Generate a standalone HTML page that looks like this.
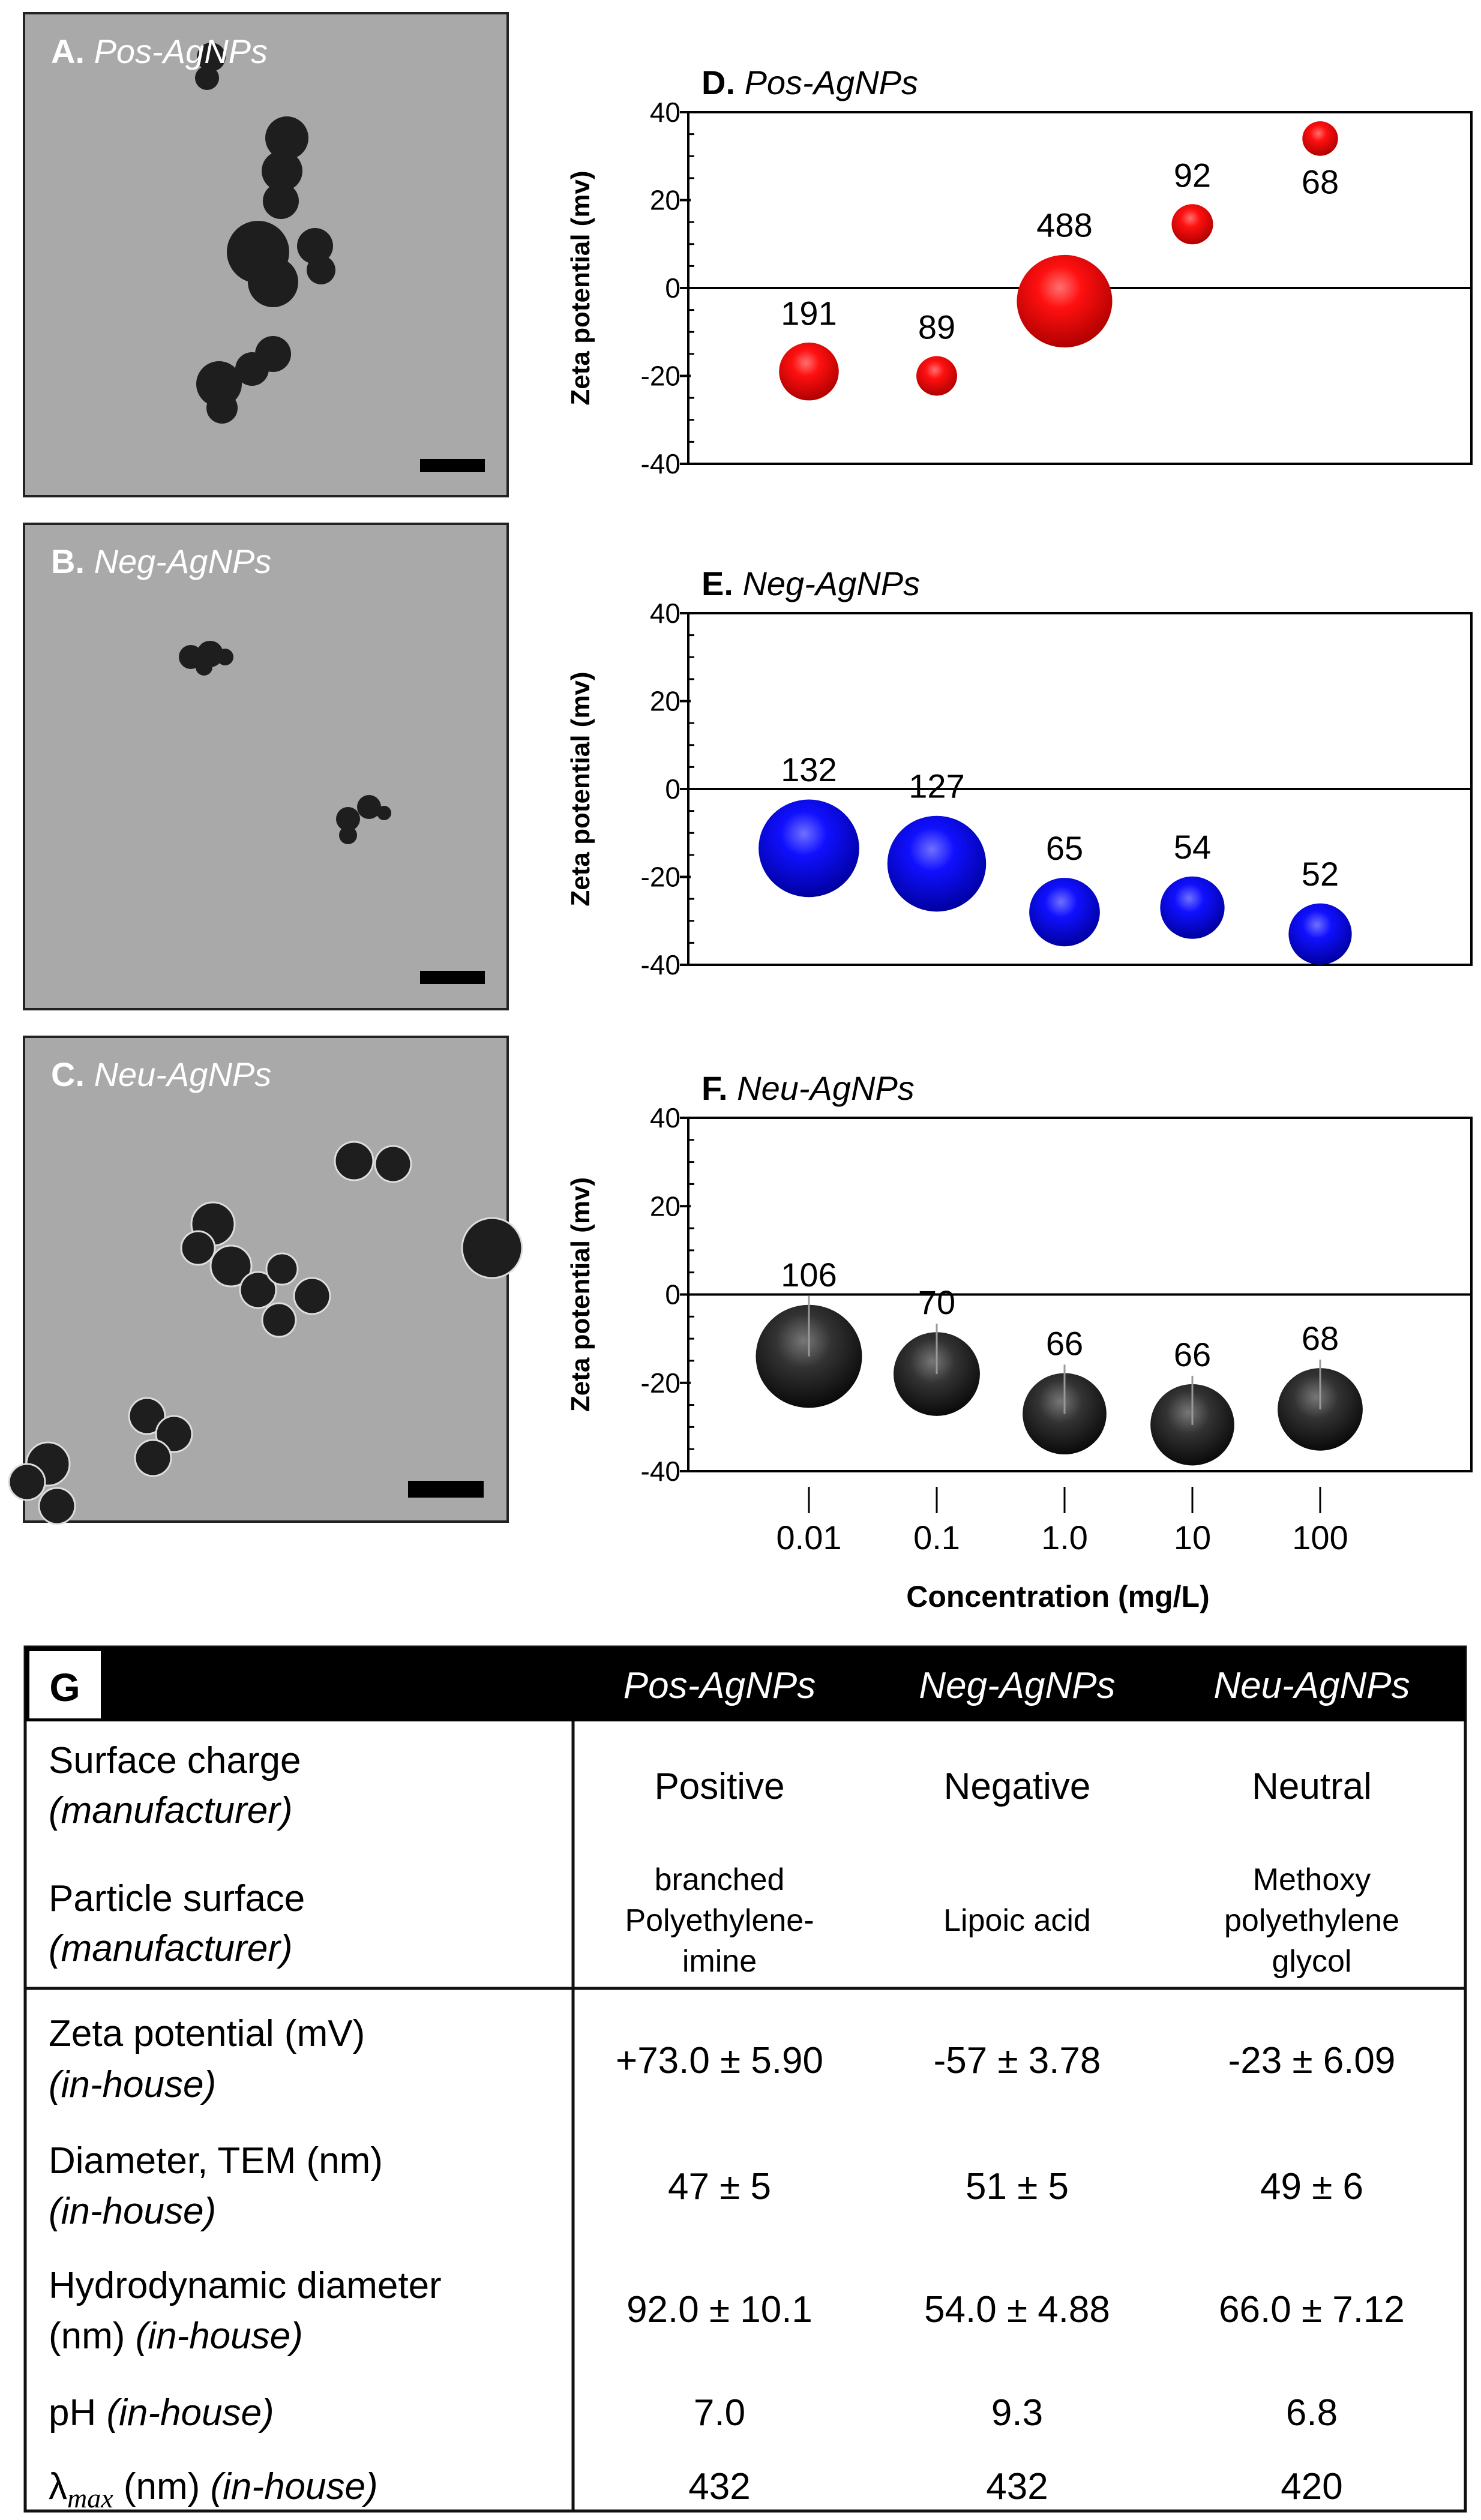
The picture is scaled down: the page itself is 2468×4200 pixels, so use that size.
<!DOCTYPE html>
<html><head><meta charset="utf-8">
<style>
html,body{margin:0;padding:0;background:#fff;}
svg{display:block;font-family:"Liberation Sans",sans-serif;}
</style></head>
<body>
<svg id="fig" width="2468" height="4200" viewBox="0 0 2468 4200" xmlns="http://www.w3.org/2000/svg">
<defs>
<radialGradient id="gred" cx="0.45" cy="0.35" r="0.65"><stop offset="0" stop-color="#ff7070"/><stop offset="0.35" stop-color="#ff1010"/><stop offset="1" stop-color="#b00000"/></radialGradient>
<radialGradient id="gblue" cx="0.45" cy="0.35" r="0.65"><stop offset="0" stop-color="#7070ff"/><stop offset="0.35" stop-color="#1010ff"/><stop offset="1" stop-color="#0000a0"/></radialGradient>
<radialGradient id="gblack" cx="0.45" cy="0.35" r="0.65"><stop offset="0" stop-color="#777"/><stop offset="0.4" stop-color="#333"/><stop offset="1" stop-color="#0a0a0a"/></radialGradient>
</defs>

<!-- TEM panels -->
<g>
<rect x="40" y="22" width="806" height="805" fill="#a9a9a9" stroke="#222" stroke-width="4"/>
<g fill="#1e1e1e">
<circle cx="352" cy="95" r="24"/><circle cx="345" cy="130" r="20"/>
<circle cx="478" cy="230" r="36"/><circle cx="470" cy="285" r="34"/><circle cx="468" cy="335" r="30"/>
<circle cx="430" cy="420" r="52"/><circle cx="455" cy="470" r="42"/><circle cx="525" cy="410" r="30"/><circle cx="535" cy="450" r="24"/>
<circle cx="365" cy="640" r="38"/><circle cx="420" cy="615" r="28"/><circle cx="455" cy="590" r="30"/><circle cx="370" cy="680" r="26"/>
</g>
<rect x="700" y="765" width="108" height="22" fill="#000"/>
<text x="85" y="105" font-size="56" font-weight="bold" fill="#fff">A. <tspan font-style="italic" font-weight="normal">Pos-AgNPs</tspan></text>
</g>
<g>
<rect x="40" y="873" width="806" height="809" fill="#a9a9a9" stroke="#222" stroke-width="4"/>
<g fill="#1e1e1e">
<circle cx="318" cy="1095" r="20"/><circle cx="350" cy="1090" r="22"/><circle cx="340" cy="1112" r="14"/><circle cx="375" cy="1095" r="14"/>
<circle cx="580" cy="1365" r="20"/><circle cx="615" cy="1345" r="20"/><circle cx="580" cy="1392" r="15"/><circle cx="640" cy="1355" r="12"/>
</g>
<rect x="700" y="1618" width="108" height="22" fill="#000"/>
<text x="85" y="955" font-size="56" font-weight="bold" fill="#fff">B. <tspan font-style="italic" font-weight="normal">Neg-AgNPs</tspan></text>
</g>
<g>
<rect x="40" y="1728" width="806" height="808" fill="#a9a9a9" stroke="#222" stroke-width="4"/>
<g fill="#1e1e1e" stroke="#ddd" stroke-width="3">
<circle cx="590" cy="1935" r="32"/><circle cx="655" cy="1940" r="30"/>
<circle cx="355" cy="2040" r="36"/><circle cx="330" cy="2080" r="28"/><circle cx="385" cy="2110" r="34"/>
<circle cx="430" cy="2150" r="30"/><circle cx="470" cy="2115" r="26"/><circle cx="520" cy="2160" r="30"/><circle cx="465" cy="2200" r="28"/>
<circle cx="820" cy="2080" r="50"/>
<circle cx="245" cy="2360" r="30"/><circle cx="290" cy="2390" r="30"/><circle cx="255" cy="2430" r="30"/>
<circle cx="80" cy="2440" r="36"/><circle cx="95" cy="2510" r="30"/><circle cx="45" cy="2470" r="30"/>
</g>
<rect x="680" y="2468" width="126" height="28" fill="#000"/>
<text x="85" y="1810" font-size="56" font-weight="bold" fill="#fff">C. <tspan font-style="italic" font-weight="normal">Neu-AgNPs</tspan></text>
</g>

<g id="charts"></g>

<!-- Table G -->
<g font-size="62">
<rect x="42" y="2745" width="2400" height="1440" fill="none" stroke="#111" stroke-width="5"/>
<rect x="42" y="2745" width="2400" height="124" fill="#000"/>
<rect x="49" y="2752" width="119" height="112" fill="#fff"/>
<text x="108" y="2835" font-size="66" font-weight="bold" text-anchor="middle">G</text>
<g font-style="italic" fill="#fff" text-anchor="middle" font-size="62">
<text x="1199" y="2830">Pos-AgNPs</text><text x="1695" y="2830">Neg-AgNPs</text><text x="2186" y="2830">Neu-AgNPs</text>
</g>
<line x1="955" y1="2869" x2="955" y2="4185" stroke="#111" stroke-width="5"/>
<line x1="42" y1="3314" x2="2442" y2="3314" stroke="#111" stroke-width="5"/>
<g>
<text x="81" y="2955">Surface charge</text><text x="81" y="3038" font-style="italic">(manufacturer)</text>
<text x="81" y="3185">Particle surface</text><text x="81" y="3268" font-style="italic">(manufacturer)</text>
<text x="81" y="3410">Zeta potential (mV)</text><text x="81" y="3495" font-style="italic">(in-house)</text>
<text x="81" y="3622">Diameter, TEM (nm)</text><text x="81" y="3706" font-style="italic">(in-house)</text>
<text x="81" y="3830">Hydrodynamic diameter</text><text x="81" y="3914">(nm) <tspan font-style="italic">(in-house)</tspan></text>
<text x="81" y="4042">pH <tspan font-style="italic">(in-house)</tspan></text>
<text x="81" y="4165">λ<tspan font-family="Liberation Serif" font-style="italic" font-size="46" dy="14">max</tspan><tspan dy="-14"> (nm) </tspan><tspan font-style="italic">(in-house)</tspan></text>
</g>
<g text-anchor="middle">
<text x="1199" y="2998">Positive</text><text x="1695" y="2998">Negative</text><text x="2186" y="2998">Neutral</text>
<g font-size="52"><text x="1199" y="3150">branched</text><text x="1199" y="3218">Polyethylene-</text><text x="1199" y="3286">imine</text>
<text x="1695" y="3218">Lipoic acid</text>
<text x="2186" y="3150">Methoxy</text><text x="2186" y="3218">polyethylene</text><text x="2186" y="3286">glycol</text></g>
<text x="1199" y="3455">+73.0 ± 5.90</text><text x="1695" y="3455">-57 ± 3.78</text><text x="2186" y="3455">-23 ± 6.09</text>
<text x="1199" y="3665">47 ± 5</text><text x="1695" y="3665">51 ± 5</text><text x="2186" y="3665">49 ± 6</text>
<text x="1199" y="3870">92.0 ± 10.1</text><text x="1695" y="3870">54.0 ± 4.88</text><text x="2186" y="3870">66.0 ± 7.12</text>
<text x="1199" y="4042">7.0</text><text x="1695" y="4042">9.3</text><text x="2186" y="4042">6.8</text>
<text x="1199" y="4165">432</text><text x="1695" y="4165">432</text><text x="2186" y="4165">420</text>
</g>
</g>
</svg>
<script>
const categories = ["0.01","0.1","1.0","10","100"];
const yTicks = [40,20,0,-20,-40];
const posZeta = [-19,-20,-3,14.5,34];
const posSize = [191,89,488,92,68];
const negZeta = [-13.5,-17,-28,-27,-33];
const negSize = [132,127,65,54,52];
const neuZeta = [-14,-18,-27,-29.5,-26];
const neuSize = [106,70,66,66,68];

const NS = "http://www.w3.org/2000/svg";
const root = document.getElementById('charts');
const plotL = 1147, plotR = 2452;
function xPos(i){ return 1348 + i*(2200-1348)/(categories.length-1); }
function mk(tag, attrs, parent){ const e=document.createElementNS(NS,tag); for(const k in attrs) e.setAttribute(k,attrs[k]); parent.appendChild(e); return e; }

const charts = [
 {key:'d', title:'D.', sub:'Pos-AgNPs', top:187, bot:773, zeta:posZeta, size:posSize, grad:'url(#gred)', k:3.6},
 {key:'e', title:'E.', sub:'Neg-AgNPs', top:1022, bot:1608, zeta:negZeta, size:negSize, grad:'url(#gblue)', k:7.3},
 {key:'f', title:'F.', sub:'Neu-AgNPs', top:1863, bot:2452, zeta:neuZeta, size:neuSize, grad:'url(#gblack)', k:8.6}
];
charts.forEach(c=>{
  const g = mk('g',{},root);
  
  
  const y = v => c.top + (40 - v)/80*(c.bot-c.top);
  const t = mk('text',{x:1169,y:c.top-30,'font-size':56,'font-weight':'bold'},g);
  
  
  t.textContent = c.title+' ';
  const ts = mk('tspan',{'font-style':'italic','font-weight':'normal'},t); ts.textContent=c.sub;
  const box = mk('rect',{x:plotL,y:c.top,width:plotR-plotL,height:c.bot-c.top,fill:'none',stroke:'#000','stroke-width':4},g);
  
  
  const zl = mk('line',{x1:plotL,x2:plotR,y1:y(0),y2:y(0),stroke:'#000','stroke-width':4},g);
  
  
  for(let v=-40; v<=40; v+=5){
    const major = v%20===0;
    mk('line',{x1:plotL-(major?14:0),x2:plotL+(major?4:10),y1:y(v),y2:y(v),stroke:'#000','stroke-width':major?4:3},g);
  }
  yTicks.forEach(v=>{
    const tl = mk('text',{x:1134,y:y(v)+16,'font-size':46,'text-anchor':'end'},g);
    
    
    tl.textContent = v;
  });
  const yl = mk('text',{x:0,y:0,'font-size':44,'font-weight':'bold','text-anchor':'middle',transform:`translate(982 ${(c.top+c.bot)/2}) rotate(-90)`},g);
  
  
  yl.textContent = 'Zeta potential (mv)';
  c.zeta.forEach((v,i)=>{
    const r = c.k*Math.sqrt(c.size[i]);
    const cx = xPos(i), cy = y(v);
    const b = mk('ellipse',{cx:cx,cy:cy,rx:r,ry:r*0.97,fill:c.grad},g);
    
    
    if(c.key==='f') mk('line',{x1:cx,x2:cx,y1:cy-r-12,y2:cy,stroke:'#999','stroke-width':3},g);
    const below = (c.key==='d' && i===4);
    const lb = mk('text',{x:cx,y: below ? cy+r+62 : cy-r-28,'font-size':56,'text-anchor':'middle'},g);
    
    
    lb.textContent = c.size[i];
  });
});
const xg = mk('g',{},root);


categories.forEach((c,i)=>{
  mk('line',{x1:xPos(i),x2:xPos(i),y1:2478,y2:2522,stroke:'#000','stroke-width':3},xg);
  const tl = mk('text',{x:xPos(i),y:2582,'font-size':56,'text-anchor':'middle'},xg);
  
  
  tl.textContent = c;
});
const xt = mk('text',{x:1763,y:2678,'font-size':50,'font-weight':'bold','text-anchor':'middle'},xg);


xt.textContent = 'Concentration (mg/L)';
</script>
</body></html>
